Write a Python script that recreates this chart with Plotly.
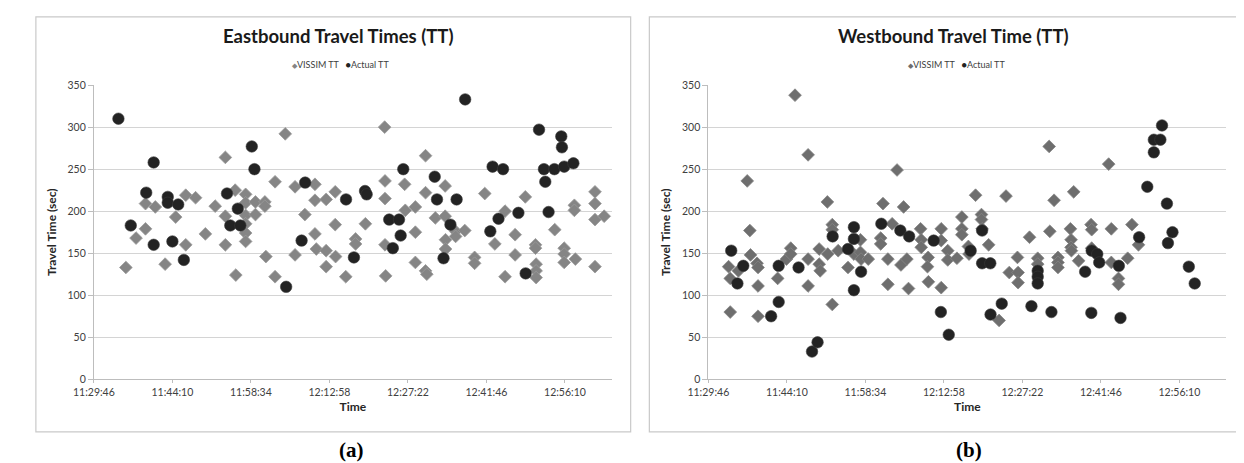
import plotly.graph_objects as go

# ---------------- data ----------------
x_tick_labels = ["11:29:46", "11:44:10", "11:58:34", "12:12:58", "12:27:22", "12:41:46", "12:56:10"]
x_axis_end = "13:04:48"
y_tick_values = [0, 50, 100, 150, 200, 250, 300, 350]
series_names = ["VISSIM TT", "Actual TT"]

eb_vissim_time = [
    "11:35:38", "11:37:30", "11:39:14", "11:39:14", "11:41:02", "11:42:50", "11:44:46", "11:46:37", "11:46:37",
    "11:48:25", "11:50:13", "11:52:01", "11:53:53", "11:53:53", "11:53:53", "11:55:41", "11:55:48", "11:57:36",
    "11:57:36", "11:57:36", "11:57:36", "11:57:36", "11:57:36", "11:59:24", "11:59:24", "12:01:08", "12:01:08",
    "12:01:19", "12:03:00", "12:03:00", "12:04:52", "12:06:40", "12:06:40", "12:08:28", "12:10:19", "12:10:19",
    "12:10:19", "12:10:34", "12:12:22", "12:12:22", "12:12:22", "12:14:02", "12:14:02", "12:14:06", "12:15:58",
    "12:17:46", "12:17:46", "12:19:34", "12:23:06", "12:23:10", "12:23:10", "12:23:10", "12:23:17", "12:26:46",
    "12:26:53", "12:28:44", "12:28:44", "12:28:44", "12:30:36", "12:30:36", "12:30:36", "12:30:50", "12:32:24",
    "12:34:12", "12:34:12", "12:34:16", "12:34:16", "12:36:07", "12:36:07", "12:37:48", "12:39:36", "12:39:36",
    "12:41:28", "12:43:19", "12:45:11", "12:45:11", "12:47:02", "12:47:02", "12:48:54", "12:50:46", "12:50:46",
    "12:50:53", "12:50:53", "12:50:53", "12:54:18", "12:56:02", "12:56:02", "12:56:02", "12:57:54", "12:57:54",
    "12:58:05", "13:01:41", "13:01:41", "13:01:41", "13:01:41", "13:03:22",
]
eb_vissim_tt = [
    133, 168, 209, 179, 205, 137, 193, 219, 160,
    216, 173, 206, 264, 194, 160, 225, 124, 220,
    210, 195, 185, 174, 164, 211, 196, 211, 206,
    146, 235, 122, 292, 229, 148, 196, 232, 213,
    173, 155, 214, 153, 134, 223, 184, 146, 122,
    167, 161, 185, 300, 236, 215, 160, 123, 232,
    201, 205, 175, 139, 266, 222, 129, 125, 192,
    230, 194, 166, 155, 176, 170, 177, 145, 138,
    221, 161, 200, 122, 172, 148, 217, 160, 156,
    137, 129, 121, 178, 156, 149, 139, 207, 201,
    143, 223, 209, 190, 134, 194,
]
eb_actual_time = [
    "11:34:16", "11:36:32", "11:39:22", "11:40:44", "11:40:44", "11:43:19", "11:43:19", "11:44:10", "11:45:14",
    "11:46:16", "11:54:11", "11:54:47", "11:56:10", "11:56:38", "11:58:44", "11:59:13", "12:05:02", "12:07:52",
    "12:08:31", "12:16:01", "12:17:28", "12:19:30", "12:19:48", "12:23:56", "12:24:36", "12:25:44", "12:26:02",
    "12:26:31", "12:32:17", "12:32:42", "12:33:54", "12:35:10", "12:36:18", "12:37:52", "12:42:29", "12:42:54",
    "12:43:59", "12:44:49", "12:47:38", "12:48:58", "12:51:25", "12:52:19", "12:52:34", "12:53:10", "12:54:14",
    "12:55:30", "12:55:37", "12:56:02", "12:57:43",
]
eb_actual_tt = [
    310, 183, 222, 258, 160, 217, 210, 164, 208,
    142, 221, 183, 203, 183, 277, 250, 110, 165,
    234, 214, 145, 224, 220, 190, 156, 190, 171,
    250, 241, 214, 144, 184, 214, 333, 176, 253,
    191, 250, 198, 126, 297, 250, 235, 199, 250,
    289, 276, 253, 257,
]

wb_vissim_time = [
    "11:33:29", "11:33:47", "11:35:17", "11:33:47", "11:36:54", "11:37:23", "11:37:30", "11:38:42", "11:38:53",
    "11:38:53", "11:38:53", "11:42:29", "11:44:06", "11:44:53", "11:44:53", "11:45:40", "11:48:04", "11:48:04",
    "11:48:04", "11:50:06", "11:50:06", "11:50:17", "11:51:36", "11:51:40", "11:52:30", "11:52:30", "11:52:30",
    "11:53:35", "11:55:23", "11:56:28", "11:57:40", "11:57:40", "11:57:47", "11:59:06", "12:01:48", "12:01:23",
    "12:01:23", "12:02:42", "12:02:42", "12:03:29", "12:04:23", "12:05:35", "12:05:06", "12:06:11", "12:06:29",
    "12:08:42", "12:08:49", "12:08:49", "12:10:05", "12:09:58", "12:10:08", "12:12:29", "12:12:29", "12:12:29",
    "12:13:41", "12:13:41", "12:15:22", "12:16:16", "12:16:16", "12:16:16", "12:17:28", "12:17:35", "12:18:47",
    "12:19:52", "12:19:52", "12:19:59", "12:21:11", "12:23:06", "12:24:22", "12:24:58", "12:26:28", "12:26:35",
    "12:26:35", "12:28:41", "12:30:11", "12:30:11", "12:32:17", "12:32:24", "12:33:11", "12:33:54", "12:33:54",
    "12:33:54", "12:36:11", "12:36:18", "12:36:18", "12:36:22", "12:36:47", "12:37:41", "12:39:58", "12:40:05",
    "12:40:05", "12:43:12", "12:43:41", "12:43:41", "12:45:00", "12:45:00", "12:46:41", "12:47:28", "12:48:40",
]
wb_vissim_tt = [
    134, 120, 129, 80, 236, 177, 148, 138, 133,
    111, 75, 120, 143, 156, 149, 338, 267, 143,
    111, 155, 137, 129, 211, 149, 184, 178, 89,
    153, 133, 149, 166, 151, 143, 143, 209, 168,
    161, 143, 113, 185, 249, 205, 136, 143, 108,
    179, 166, 157, 145, 134, 116, 179, 165, 109,
    153, 142, 144, 193, 179, 172, 158, 149, 219,
    196, 190, 179, 160, 70, 218, 127, 145, 127,
    115, 169, 144, 137, 277, 176, 213, 145, 139,
    133, 179, 166, 157, 153, 223, 141, 184, 178,
    156, 256, 179, 139, 120, 113, 144, 184, 160,
]
wb_actual_time = [
    "11:33:58", "11:35:06", "11:36:11", "11:41:17", "11:42:40", "11:42:40", "11:46:19", "11:48:47", "11:49:48",
    "11:52:34", "11:55:23", "11:56:28", "11:56:28", "11:56:28", "11:57:47", "12:01:30", "12:04:59", "12:06:36",
    "12:11:06", "12:12:25", "12:13:52", "12:17:53", "12:19:59", "12:19:59", "12:21:29", "12:21:32", "12:23:35",
    "12:29:02", "12:30:11", "12:30:11", "12:30:11", "12:32:42", "12:38:53", "12:40:05", "12:41:06", "12:41:28",
    "12:40:01", "12:45:04", "12:45:22", "12:48:47", "12:50:17", "12:51:29", "12:51:29", "12:52:41", "12:52:59",
    "12:53:53", "12:54:04", "12:54:54", "12:57:54", "12:58:59",
]
wb_actual_tt = [
    153, 114, 135, 75, 135, 92, 133, 33, 44,
    170, 155, 181, 167, 106, 128, 185, 177, 170,
    165, 80, 53, 153, 177, 138, 138, 77, 90,
    87, 129, 122, 114, 80, 128, 153, 149, 139,
    79, 135, 73, 169, 229, 270, 285, 285, 302,
    209, 162, 175, 134, 114,
]


def day_frac(s):
    h, m, sec = (int(v) for v in s.split(":"))
    return (h * 3600 + m * 60 + sec) / 86400.0


# ---------------- figure ----------------
W, H = 1244, 463
FONT = "Lato, 'Open Sans', Roboto, sans-serif"
GRID = "#d4d4d4"
AXIS = "#bdbdbd"
TICK_FONT = dict(family=FONT, size=10.5, color="#404040")
CIRCLE_COL = "#232323"


def px_x(p):
    return p / W


def px_y(p):
    return 1 - p / H


fig = go.Figure()

panels = [
    dict(xa="x", ya="y", vt=eb_vissim_time, vv=eb_vissim_tt, at=eb_actual_time, av=eb_actual_tt,
         dcol="#858585", dline="#9a9a9a", title="Eastbound Travel Times (TT)", tx=315, lx=317, cap="(a)", cx=328),
    dict(xa="x2", ya="y2", vt=wb_vissim_time, vv=wb_vissim_tt, at=wb_actual_time, av=wb_actual_tt,
         dcol="#6e6e6e", dline="#858585", title="Westbound Travel Time (TT)", tx=940, lx=943, cap="(b)", cx=956),
]

for p in panels:
    fig.add_trace(go.Scatter(
        x=[day_frac(t) for t in p["vt"]], y=p["vv"], mode="markers", name=series_names[0],
        xaxis=p["xa"], yaxis=p["ya"], showlegend=False,
        marker=dict(symbol="diamond", size=9.8, color=p["dcol"],
                    line=dict(color=p["dline"], width=0.8)),
        hovertemplate="%{y} sec<extra>VISSIM TT</extra>",
    ))
    fig.add_trace(go.Scatter(
        x=[day_frac(t) for t in p["at"]], y=p["av"], mode="markers", name=series_names[1],
        xaxis=p["xa"], yaxis=p["ya"], showlegend=False,
        marker=dict(symbol="circle", size=11.5, color=CIRCLE_COL,
                    line=dict(color="#3a3a3a", width=0.6)),
        hovertemplate="%{y} sec<extra>Actual TT</extra>",
    ))

tickvals = [day_frac(t) for t in x_tick_labels]
xrange_ = [tickvals[0], day_frac(x_axis_end)]

common_x = dict(
    range=xrange_, tickmode="array", tickvals=tickvals, ticktext=x_tick_labels,
    showgrid=False, zeroline=False, showline=True, linecolor=AXIS, linewidth=1,
    ticks="outside", ticklen=3, tickcolor=AXIS, tickfont=TICK_FONT,
    title=dict(text="<b>Time</b>", font=dict(family=FONT, size=12, color="#262626"), standoff=5),
)
common_y = dict(
    range=[0, 350], tickmode="array", tickvals=y_tick_values,
    showgrid=True, gridcolor=GRID, gridwidth=1, zeroline=False,
    showline=True, linecolor=AXIS, linewidth=1,
    ticks="outside", ticklen=5, tickcolor=AXIS, tickfont=TICK_FONT,
    title=dict(text="<b>Travel Time (sec)</b>", font=dict(family=FONT, size=12, color="#262626"), standoff=8),
)

y_dom = [px_y(375), px_y(73)]
fig.update_layout(
    width=W, height=H,
    margin=dict(l=0, r=0, t=0, b=0),
    paper_bgcolor="white", plot_bgcolor="white",
    font=dict(family=FONT),
    xaxis=dict(domain=[px_x(66), px_x(593)], anchor="y", **common_x),
    yaxis=dict(domain=y_dom, anchor="x", **common_y),
    xaxis2=dict(domain=[px_x(691), px_x(1218)], anchor="y2", **common_x),
    yaxis2=dict(domain=y_dom, anchor="x2", **common_y),
    showlegend=False,
)

# panel frames
for x0, x1 in [(7, 612), (631, 1241)]:
    fig.add_shape(type="rect", xref="paper", yref="paper",
                  x0=px_x(x0), x1=px_x(x1), y0=px_y(429), y1=px_y(3),
                  line=dict(color="#c9c9c9", width=1.2), fillcolor="rgba(0,0,0,0)", layer="below")

for p in panels:
    # chart title
    fig.add_annotation(text=f"<b>{p['title']}</b>", xref="paper", yref="paper", x=px_x(p["tx"]), y=px_y(23),
                       xanchor="center", yanchor="middle", showarrow=False,
                       font=dict(family=FONT, size=18.5, color="#1a1a1a"))
    # compact legend (symbol + name for each series)
    legend_txt = (f"<span style='color:{p['dcol']}; font-size:7px'>◆</span>{series_names[0]}"
                  f"&nbsp;&nbsp;&nbsp;<span style='color:{CIRCLE_COL}; font-size:9px'>●</span>{series_names[1]}")
    fig.add_annotation(text=legend_txt, xref="paper", yref="paper", x=px_x(p["lx"]), y=px_y(52),
                       xanchor="center", yanchor="middle", showarrow=False,
                       font=dict(family=FONT, size=9, color="#404040"))
    # panel caption
    fig.add_annotation(text=f"<b>{p['cap']}</b>", xref="paper", yref="paper", x=px_x(p["cx"]), y=px_y(448),
                       xanchor="center", yanchor="middle", showarrow=False,
                       font=dict(family="'Liberation Serif', 'Times New Roman', serif", size=21, color="#000000"))

fig.write_html("out.html")
